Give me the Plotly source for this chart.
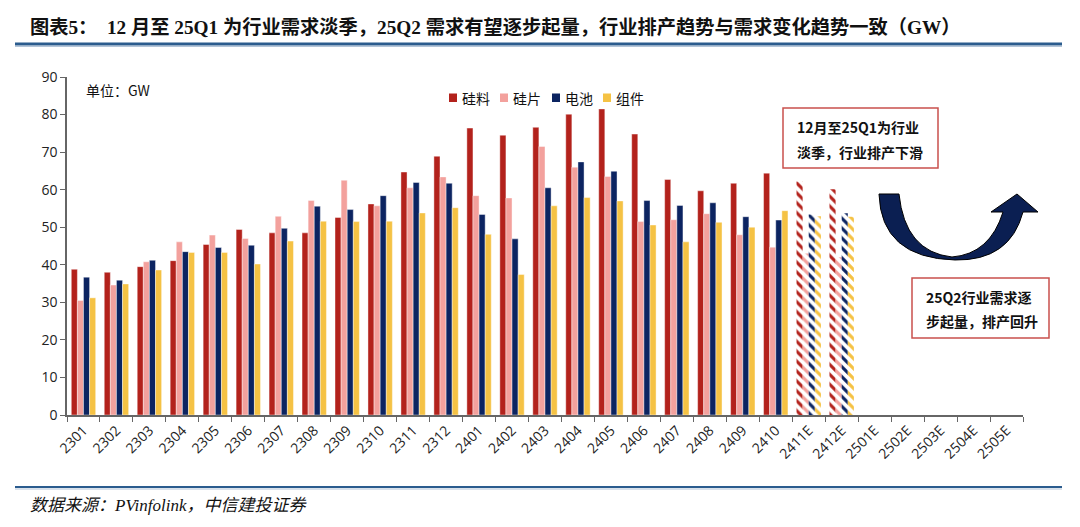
import plotly.graph_objects as go

categories = ["2301", "2302", "2303", "2304", "2305", "2306", "2307", "2308", "2309", "2310",
              "2311", "2312", "2401", "2402", "2403", "2404", "2405", "2406", "2407", "2408",
              "2409", "2410", "2411E", "2412E", "2501E", "2502E", "2503E", "2504E", "2505E"]

polysilicon = [38.8, 38.0, 39.5, 41.1, 45.4, 49.4, 48.5, 48.5, 52.6, 56.2,
               64.7, 68.9, 76.4, 74.5, 76.6, 80.1, 81.5, 74.8, 62.7, 59.7,
               61.7, 64.4, 62.2, 60.1, None, None, None, None, None]
wafer = [30.5, 34.6, 40.8, 46.1, 47.9, 47.0, 52.9, 57.1, 62.5, 55.7,
         60.5, 63.4, 58.4, 57.8, 71.5, 66.0, 63.5, 51.5, 52.0, 53.6,
         48.0, 44.7, 43.0, 42.0, None, None, None, None, None]
cell = [36.7, 35.9, 41.2, 43.5, 44.6, 45.2, 49.7, 55.6, 54.7, 58.4,
        61.9, 61.7, 53.4, 46.9, 60.5, 67.4, 64.9, 57.1, 55.8, 56.5,
        52.8, 51.9, 53.4, 53.7, None, None, None, None, None]
module = [31.2, 34.9, 38.6, 43.3, 43.3, 40.2, 46.3, 51.6, 51.5, 51.6,
          53.8, 55.2, 48.1, 37.4, 55.7, 57.9, 57.0, 50.6, 46.1, 51.3,
          50.0, 54.4, 52.9, 52.8, None, None, None, None, None]

series_names = ["硅料", "硅片", "电池", "组件"]
series_values = [polysilicon, wafer, cell, module]
series_colors = ["#B3221C", "#F3A19D", "#0C2461", "#F5C244"]

title_text = "图表5：  12 月至 25Q1 为行业需求淡季，25Q2 需求有望逐步起量，行业排产趋势与需求变化趋势一致（GW）"
source_text = "数据来源：PVinfolink，中信建投证券"
unit_text = "单位：GW"
box1_lines = ["12月至25Q1为行业", "淡季，行业排产下滑"]
box2_lines = ["25Q2行业需求逐", "步起量，排产回升"]

# page offset of the figure div (browser default body margin)
OFF = 8
W, H = 1080, 527
# plot area in page pixels
L, R, T, B = 67, 1023, 77, 415


def px(x):
    return (x - L) / (R - L)


def py(y):
    return (B - y) / (B - T)


is_forecast = [c.endswith("E") for c in categories]
pattern_shapes = ["\\" if f else "" for f in is_forecast]
line_widths = [0 if f else 0.6 for f in is_forecast]

fig = go.Figure()
for name, vals, col in zip(series_names, series_values, series_colors):
    fig.add_trace(go.Bar(
        x=categories, y=vals, name=name,
        marker=dict(color=col,
                    line=dict(color="rgba(255,255,255,0.7)", width=line_widths),
                    pattern=dict(shape=pattern_shapes, size=7, solidity=0.45,
                                 fillmode="replace")),
        showlegend=False,
    ))

shapes = []
annotations = []

# title and footer rules
shapes.append(dict(type="line", xref="paper", yref="paper", x0=px(15), x1=px(1062),
                   y0=py(44), y1=py(44), line=dict(color="#2B5C8E", width=3)))
shapes.append(dict(type="line", xref="paper", yref="paper", x0=px(15), x1=px(1062),
                   y0=py(46.5), y1=py(46.5), line=dict(color="#B3C4D8", width=1)))
shapes.append(dict(type="line", xref="paper", yref="paper", x0=px(15), x1=px(1062),
                   y0=py(487), y1=py(487), line=dict(color="#2B5C8E", width=2)))
shapes.append(dict(type="line", xref="paper", yref="paper", x0=px(15), x1=px(1062),
                   y0=py(489), y1=py(489), line=dict(color="#B3C4D8", width=1)))

annotations.append(dict(xref="paper", yref="paper", x=px(28), y=py(27), xanchor="left",
                        yanchor="middle", showarrow=False, text="<b>" + title_text + "</b>",
                        font=dict(family="Liberation Serif, Noto Sans CJK SC", size=19.25,
                                  color="#111111")))
annotations.append(dict(xref="paper", yref="paper", x=px(28), y=py(505), xanchor="left",
                        yanchor="middle", showarrow=False, text="<i>" + source_text + "</i>",
                        font=dict(family="Liberation Serif, Noto Sans CJK SC", size=17,
                                  color="#111111")))
annotations.append(dict(xref="paper", yref="paper", x=px(84), y=py(90), xanchor="left",
                        yanchor="middle", showarrow=False, text=unit_text,
                        font=dict(family="Noto Sans CJK SC", size=14, color="#111111")))

# manual legend
legend_sq_x = [449, 500, 552, 603]
for name, col, sx in zip(series_names, series_colors, legend_sq_x):
    shapes.append(dict(type="rect", xref="paper", yref="paper", x0=px(sx), x1=px(sx + 8),
                       y0=py(102), y1=py(93.5), fillcolor=col, line=dict(width=0)))
    annotations.append(dict(xref="paper", yref="paper", x=px(sx + 11), y=py(97.5),
                            xanchor="left", yanchor="middle", showarrow=False, text=name,
                            font=dict(family="Noto Sans CJK SC", size=14, color="#111111")))

# annotation boxes
for (x0, y0, x1, y1), lines, tx, tys in [
    ((783, 108, 938, 168), box1_lines, 795, (127, 152)),
    ((912, 278, 1049, 338), box2_lines, 924, (297, 321)),
]:
    shapes.append(dict(type="rect", xref="paper", yref="paper", x0=px(x0), x1=px(x1),
                       y0=py(y1), y1=py(y0), fillcolor="white",
                       line=dict(color="#C9504C", width=1.5)))
    for txt, ty in zip(lines, tys):
        annotations.append(dict(xref="paper", yref="paper", x=px(tx), y=py(ty),
                                xanchor="left", yanchor="middle", showarrow=False,
                                text="<b>" + txt + "</b>",
                                font=dict(family="Noto Sans CJK SC", size=14,
                                          color="#111111")))

# curved arrow
pts = [("M", [(879, 194)]), ("L", [(899, 194)]), ("Q", [(905, 252), (952, 257)]),
       ("Q", [(990, 254), (1003, 212)]), ("L", [(991, 212)]), ("L", [(1017, 194)]),
       ("L", [(1038, 212)]), ("L", [(1023, 212)]), ("Q", [(1010, 261), (955, 260)]),
       ("Q", [(881, 258), (879, 194)])]
path = ""
for cmd, plist in pts:
    path += cmd + " " + " ".join(f"{px(a):.5f},{py(b):.5f}" for a, b in plist) + " "
path += "Z"
shapes.append(dict(type="path", xref="paper", yref="paper", path=path,
                   fillcolor="#0B1F52", line=dict(color="#000000", width=1)))

fig.update_layout(
    width=W, height=H,
    margin=dict(l=L - OFF, r=W - (R - OFF), t=T - OFF, b=H - (B - OFF), pad=0),
    paper_bgcolor="white", plot_bgcolor="white",
    barmode="group", bargap=0.26, bargroupgap=0,
    shapes=shapes, annotations=annotations,
    font=dict(family="Open Sans, Noto Sans CJK SC", color="#222222"),
    xaxis=dict(type="category", categoryorder="array", categoryarray=categories,
               showline=True, linecolor="#666666", linewidth=1.5,
               ticks="outside", ticklen=5, tickwidth=1.2, tickcolor="#666666",
               tickson="boundaries", tickangle=-45, tickfont=dict(size=14, color="#222222"),
               showgrid=False, zeroline=False),
    yaxis=dict(range=[0, 90], dtick=10, showline=True, linecolor="#666666", linewidth=1.5,
               ticks="outside", ticklen=5, tickwidth=1.2, tickcolor="#666666",
               tickfont=dict(size=14, color="#222222"), showgrid=False, zeroline=False),
)

fig.write_html("out.html")
